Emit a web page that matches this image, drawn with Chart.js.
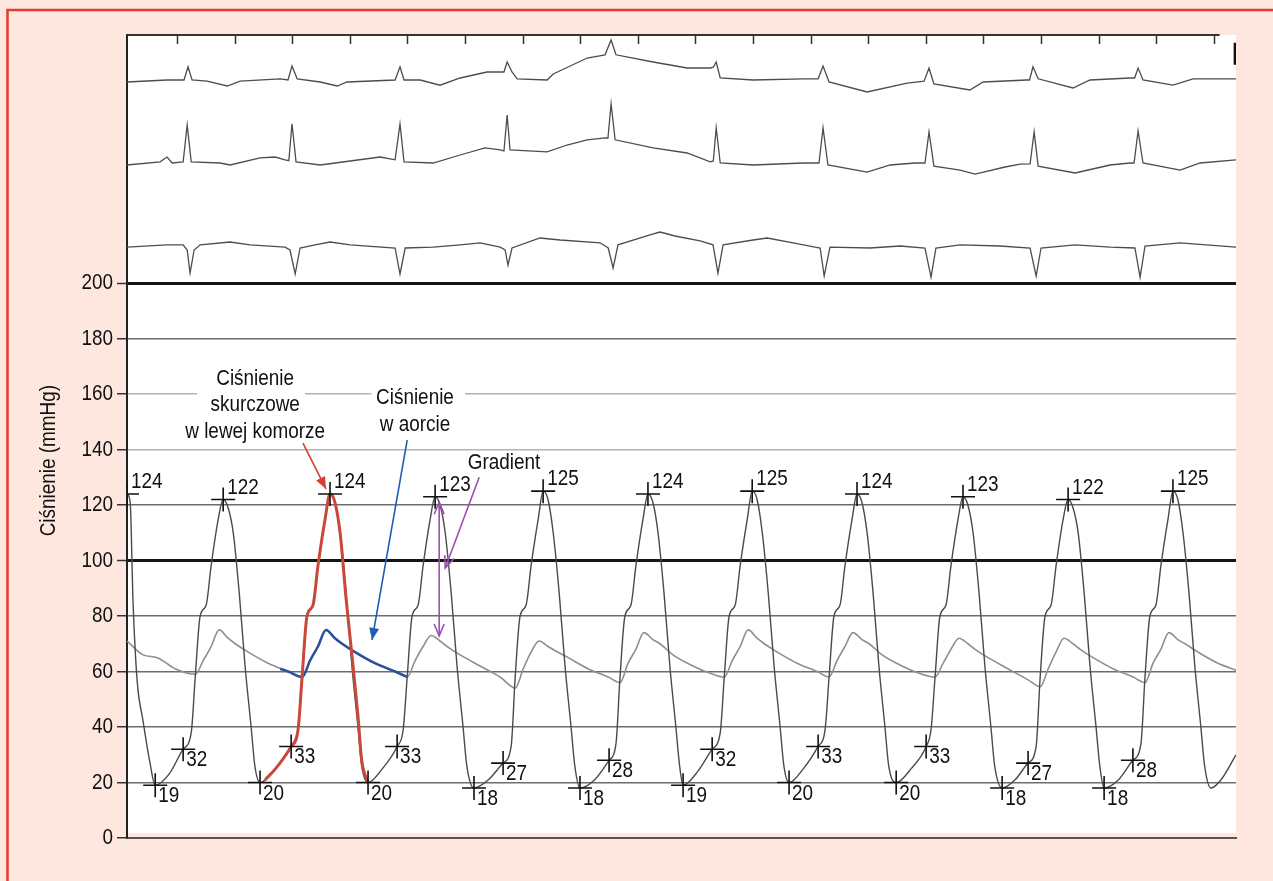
<!DOCTYPE html>
<html>
<head>
<meta charset="utf-8">
<title>Ciśnienie w lewej komorze i w aorcie</title>
<script src="https://cdn.jsdelivr.net/npm/chart.js@4.4.1/dist/chart.umd.min.js"></script>
<style>
  html, body { margin: 0; padding: 0; background: #fde7de; }
  #chart { display: block; }
</style>
</head>
<body>
<canvas id="chart" width="1273" height="881"></canvas>
<script>
// --- Fonts / axis ranges ---
const FONT = "'Liberation Sans', Arial, sans-serif";
const FONT_SIZE = 22;
const SQUEEZE = 0.86;  // horizontal squeeze, the original uses a condensed face
const X_MIN = -174;    // ms, left edge of the trace
const X_MAX = 3677;    // ms, right edge
const Y_MAX = 289.4;   // mmHg scale continues up into the ECG strip
const TOP_AXIS_END = 3620;

// --- Axis ticks ---
const yTicks = [0, 20, 40, 60, 80, 100, 120, 140, 160, 180, 200];
const topTicks = [0, 200, 400, 600, 800, 1000, 1200, 1400, 1600, 1800, 2000,
                  2200, 2400, 2600, 2800, 3000, 3200, 3400, 3600];

// --- Marked points (time in ms, pressure in mmHg) ---
const peakTimes  = [-174, 160, 531, 896, 1271, 1635, 1997, 2361, 2729, 3094, 3458];
const peakValues = [124, 122, 124, 123, 125, 124, 125, 124, 123, 122, 125];
const minTimes   = [-76, 288, 663, 1031, 1399, 1757, 2125, 2497, 2865, 3219];
const minValues  = [19, 20, 20, 18, 18, 19, 20, 20, 18, 18];
const edTimes    = [21, 396, 764, 1132, 1500, 1858, 2226, 2601, 2955, 3319];
const edValues   = [32, 33, 33, 27, 28, 32, 33, 33, 27, 28];

// --- Left ventricular pressure [ms, mmHg] ---
const lvPressure = [
  [-174,124],[-163,121],[-153,85],[-139,57],[-118,42],[-94,27],
  [-76,19],[-28,23],[21,32],[49,38],[63,58],[80,80],[101,84],[118,98],[143,115],[160,122],[177,119],[195,110],[216,88],[236,62],[257,40],[270,26],
  [288,20],[342,25],[396,33],[420,39],[434,58],[451,80],[472,84],[489,98],[514,115],[531,124],[548,121],[566,110],[587,88],[607,62],[628,40],[641,26],
  [663,20],[713,25],[764,33],[785,39],[799,58],[816,80],[837,84],[854,98],[879,115],[896,123],[913,120],[931,110],[952,88],[972,62],[993,40],[1006,26],
  [1031,18],[1081,21],[1132,27],[1160,33],[1174,58],[1191,80],[1212,84],[1229,98],[1254,115],[1271,125],[1288,122],[1306,110],[1327,88],[1347,62],[1368,40],[1381,26],
  [1399,18],[1450,21],[1500,28],[1524,34],[1538,58],[1555,80],[1576,84],[1593,98],[1618,115],[1635,124],[1652,121],[1670,110],[1691,88],[1711,62],[1732,40],[1745,26],
  [1757,19],[1808,24],[1858,32],[1886,38],[1900,58],[1917,80],[1938,84],[1955,98],[1980,115],[1997,125],[2014,122],[2032,110],[2053,88],[2073,62],[2094,40],[2107,26],
  [2125,20],[2175,25],[2226,33],[2250,39],[2264,58],[2281,80],[2302,84],[2319,98],[2344,115],[2361,124],[2378,121],[2396,110],[2417,88],[2437,62],[2458,40],[2471,26],
  [2497,20],[2549,25],[2601,33],[2618,39],[2632,58],[2649,80],[2670,84],[2687,98],[2712,115],[2729,123],[2746,120],[2764,110],[2785,88],[2805,62],[2826,40],[2839,26],
  [2865,18],[2910,21],[2955,27],[2983,33],[2997,58],[3014,80],[3035,84],[3052,98],[3077,115],[3094,122],[3111,119],[3129,110],[3150,88],[3170,62],[3191,40],[3204,26],
  [3219,18],[3269,21],[3319,28],[3347,34],[3361,58],[3378,80],[3399,84],[3416,98],[3441,115],[3458,125],[3475,122],[3493,110],[3514,88],[3534,62],[3555,40],[3568,26],
  [3590,18],[3625,21],[3677,30]
];

// highlighted LV beat (red)
const lvHighlight = [
  [306,21],[342,25],[396,33],[420,39],[434,58],[451,80],[472,84],[489,98],[514,115],[531,124],
  [548,121],[566,110],[587,86],[607,66],[628,44],[641,28],[663,20]
];

// --- Aortic pressure [ms, mmHg] ---
const aorticPressure = [
  [-174,71],[-118,66],[-69,65],[-7,61],
  [63,59],[91,64],[118,69],[146,75],[177,72],[202,70],[247,67],[316,63],[386,60],
  [434,58],[462,64],[489,69],[517,75],[548,72],[573,70],[618,67],[687,63],[757,60],
  [799,58],[827,64],[854,69],[882,73],[913,71],[938,69],[983,66],[1052,62],[1122,58],
  [1174,54],[1202,61],[1229,67],[1257,71],[1288,69],[1313,67.5],[1358,65],[1427,61],[1497,58],
  [1538,56],[1566,63],[1593,68],[1621,74],[1652,71.5],[1677,70],[1722,66],[1791,62],[1861,59],
  [1900,58],[1928,64],[1955,69],[1983,75],[2014,72],[2039,70],[2084,67],[2153,63],[2223,60],
  [2264,58],[2292,64],[2319,69],[2347,74],[2378,71.5],[2403,70],[2448,66],[2517,62],[2587,59],
  [2632,58],[2660,63],[2687,68],[2715,72],[2746,70],[2771,68],[2816,65],[2885,61],[2955,57],
  [2997,54.5],[3025,61],[3052,67],[3080,72],[3111,70],[3136,68],[3181,65],[3250,61],[3320,58],
  [3361,56],[3389,63],[3416,68],[3444,74],[3475,71.5],[3500,70],[3545,67],[3614,63],[3677,60.5]
];

// highlighted aortic segment (blue)
const aorticHighlight = [
  [358,61],[386,60],[434,58],[462,64],[489,69],[517,75],[548,72],[573,70],[618,67],[687,63],[757,60],[799,58]
];

// --- ECG leads [ms, mV relative to own baseline] ---
const ecgLeadI = [
  [-174,-0.05],[-35,0],[24,0],[38,0.33],[52,0],[104,-0.03],[174,-0.15],[219,-0.03],[358,0.03],[385,0],[399,0.35],[417,0.03],
  [497,-0.05],[556,-0.15],[590,-0.05],[757,0],[774,0.33],[788,0],[844,0],[913,-0.13],[983,0.05],[1076,0.2],[1122,0.2],[1135,0.2],
  [1146,0.45],[1163,0.2],[1181,0.03],[1285,0],[1306,0.15],[1424,0.55],[1486,0.63],[1507,1.0],[1524,0.63],[1653,0.45],[1771,0.3],
  [1851,0.3],[1862,0.32],[1872,0.45],[1886,0.05],[2000,0],[2174,0.03],[2226,0.03],[2243,0.35],[2264,-0.05],[2396,-0.3],[2535,-0.08],
  [2594,-0.03],[2611,0.3],[2628,-0.1],[2753,-0.25],[2799,-0.05],[2951,0],[2960,0],[2972,0.33],[2990,0.03],[3111,-0.2],[3170,0],
  [3309,0.05],[3325,0.05],[3337,0.3],[3354,0],[3458,-0.13],[3528,0.03],[3677,0.03]
];
const ecgLeadII = [
  [-174,-0.05],[-59,0.03],[-35,0.15],[-17,0],[21,0.03],[35,0.95],[49,0.03],[149,0],[184,-0.05],[288,0.13],[340,0.15],[375,0.08],
  [388,0.06],[399,0.98],[413,0.03],[497,-0.05],[549,0],[705,0.15],[757,0.08],[774,0.98],[788,0.03],[889,0],[983,0.2],[1069,0.38],
  [1122,0.33],[1135,0.3],[1146,1.2],[1156,0.33],[1285,0.28],[1354,0.45],[1424,0.58],[1486,0.63],[1496,0.62],[1507,1.48],[1521,0.58],
  [1653,0.38],[1771,0.25],[1851,0.03],[1862,0.05],[1872,0.88],[1886,0],[2000,-0.05],[2174,0],[2229,0],[2243,0.88],[2260,-0.05],
  [2396,-0.23],[2476,-0.05],[2563,0],[2597,0],[2611,0.78],[2628,-0.08],[2719,-0.18],[2771,-0.28],[2875,-0.1],[2927,-0.03],
  [2962,-0.02],[2976,0.78],[2990,-0.08],[3118,-0.25],[3240,-0.05],[3309,0],[3323,0],[3337,0.8],[3354,0],[3483,-0.18],[3552,0],[3677,0.08]
];
const ecgLeadIII = [
  [-174,-0.03],[-35,0.03],[21,0.03],[35,-0.1],[45,-0.68],[59,-0.1],[80,0.03],[184,0.1],[253,0.03],[375,-0.03],[392,-0.1],
  [410,-0.7],[427,-0.05],[479,0.03],[531,0.1],[601,0.03],[757,-0.05],[774,-0.7],[792,-0.05],[889,-0.03],[983,0.03],[1052,0.08],
  [1122,-0.03],[1139,-0.1],[1149,-0.48],[1163,-0.05],[1260,0.2],[1330,0.15],[1469,0.08],[1497,-0.05],[1514,-0.55],[1531,0.03],
  [1642,0.28],[1677,0.35],[1729,0.25],[1816,0.13],[1861,0.03],[1878,-0.68],[1896,0.03],[2000,0.15],[2049,0.2],[2139,0.08],
  [2215,-0.03],[2233,-0.05],[2247,-0.75],[2267,-0.03],[2406,-0.05],[2510,0],[2597,-0.05],[2618,-0.78],[2635,-0.05],[2719,0.03],
  [2858,0],[2962,-0.05],[2983,-0.75],[3000,-0.05],[3118,0.03],[3240,-0.03],[3326,-0.05],[3344,-0.78],[3361,0],[3483,0.08],[3677,-0.03]
];
const calibrationMark = [[3674,0.93],[3674,0.38]];

// --- Annotations (data coordinates: ms, mmHg) ---
const notes = [
  { lines: ['Ciśnienie', 'skurczowe', 'w lewej komorze'], x: 271, y: [165.4, 156.0, 146.3] },
  { lines: ['Ciśnienie', 'w aorcie'], x: 826, y: [158.6, 148.8] },
  { lines: ['Gradient'], x: 1135, y: [135.1] }
];
const noteBoxes = [
  { x0: 69, x1: 444, y0: 142, y1: 170 },
  { x0: 674, x1: 1000, y0: 144, y1: 164 }
];
const arrows = [
  { from: [437, 142.3], to: [517, 125.8], color: '#d8402f', filled: true, both: false },
  { from: [799, 143.4], to: [677, 71.4], color: '#1f5eb3', filled: true, both: false },
  { from: [1049, 130.0], to: [931, 97.3], color: '#9a4fb2', filled: false, both: false },
  { from: [910, 121.0], to: [910, 72.8], color: '#9a4fb2', filled: false, both: true }
];

// --- Helpers ---
function gridColor(v) {
  if (v === 0) return 'rgba(0,0,0,0)';
  if (v === 200 || v === 100) return '#151515';
  if (v === 160 || v === 140) return '#b4b4b4';
  return '#6c6c6c';
}

function drawHead(ctx, x, y, ang, filled) {
  const len = 12, w = 5;
  const bx = x - len * Math.cos(ang), by = y - len * Math.sin(ang);
  const ox = -Math.sin(ang) * w, oy = Math.cos(ang) * w;
  ctx.beginPath();
  ctx.moveTo(bx + ox, by + oy);
  ctx.lineTo(x, y);
  ctx.lineTo(bx - ox, by - oy);
  if (filled) { ctx.closePath(); ctx.fill(); } else { ctx.stroke(); }
}

// text in a narrowed face (translate, optional rotation, then squeeze along the baseline)
function squeezedText(ctx, text, x, y, align, angle) {
  ctx.save();
  ctx.translate(x, y);
  if (angle) ctx.rotate(angle);
  ctx.scale(SQUEEZE, 1);
  ctx.font = FONT_SIZE + 'px ' + FONT;
  ctx.fillStyle = '#111';
  ctx.textAlign = align;
  ctx.textBaseline = 'middle';
  ctx.fillText(text, 0, 0);
  ctx.restore();
}

const crossPoints = []
  .concat(peakTimes.map((t, i) => ({ x: t, y: peakValues[i] })))
  .concat(minTimes.map((t, i) => ({ x: t, y: minValues[i] })))
  .concat(edTimes.map((t, i) => ({ x: t, y: edValues[i] })));

// --- Plugins ---
const backdrop = {
  id: 'backdrop',
  beforeDraw(chart) {
    const { ctx, chartArea: a, width, height } = chart;
    ctx.save();
    ctx.fillStyle = '#fde7de';
    ctx.fillRect(0, 0, width, height);
    ctx.strokeStyle = '#e8392c';
    ctx.lineWidth = 2.5;
    ctx.beginPath();
    ctx.moveTo(7.5, height);
    ctx.lineTo(7.5, 10);
    ctx.lineTo(width, 10);
    ctx.stroke();
    ctx.fillStyle = '#ffffff';
    ctx.fillRect(a.left, a.top, a.right - a.left, a.bottom - a.top - 5);
    ctx.restore();
  },
  beforeDatasetsDraw(chart) {
    // white boxes behind the labels hide the 160 grid line
    const { ctx, scales: { x, y } } = chart;
    ctx.save();
    ctx.fillStyle = '#ffffff';
    noteBoxes.forEach(b => {
      const l = x.getPixelForValue(b.x0), r = x.getPixelForValue(b.x1);
      const t = y.getPixelForValue(b.y1), btm = y.getPixelForValue(b.y0);
      ctx.fillRect(l, t, r - l, btm - t);
    });
    ctx.restore();
  }
};

const overlay = {
  id: 'overlay',
  afterDatasetsDraw(chart) {
    const { ctx, chartArea: a, scales: { x, y } } = chart;
    ctx.save();

    // top time axis with inward ticks
    ctx.strokeStyle = '#333';
    ctx.lineWidth = 2;
    ctx.beginPath();
    ctx.moveTo(a.left, a.top);
    ctx.lineTo(x.getPixelForValue(TOP_AXIS_END), a.top);
    ctx.stroke();
    ctx.lineWidth = 1.5;
    ctx.beginPath();
    topTicks.forEach(t => {
      const px = Math.round(x.getPixelForValue(t)) + 0.5;
      ctx.moveTo(px, a.top);
      ctx.lineTo(px, a.top + 9);
    });
    ctx.stroke();

    // arrows
    arrows.forEach(ar => {
      const x1 = x.getPixelForValue(ar.from[0]), y1 = y.getPixelForValue(ar.from[1]);
      const x2 = x.getPixelForValue(ar.to[0]), y2 = y.getPixelForValue(ar.to[1]);
      ctx.strokeStyle = ar.color;
      ctx.fillStyle = ar.color;
      ctx.lineWidth = 1.6;
      ctx.beginPath();
      ctx.moveTo(x1, y1);
      ctx.lineTo(x2, y2);
      ctx.stroke();
      const ang = Math.atan2(y2 - y1, x2 - x1);
      drawHead(ctx, x2, y2, ang, ar.filled);
      if (ar.both) drawHead(ctx, x1, y1, ang + Math.PI, ar.filled);
    });
    ctx.restore();

    // annotation text
    notes.forEach(n => {
      n.lines.forEach((line, i) => {
        squeezedText(ctx, line, x.getPixelForValue(n.x), y.getPixelForValue(n.y[i]), 'center');
      });
    });

    // value labels next to the crosses
    peakTimes.forEach((t, i) => {
      squeezedText(ctx, String(peakValues[i]), x.getPixelForValue(t) + 4, y.getPixelForValue(peakValues[i]) - 12, 'left');
    });
    minTimes.forEach((t, i) => {
      squeezedText(ctx, String(minValues[i]), x.getPixelForValue(t) + 3, y.getPixelForValue(minValues[i]) + 11, 'left');
    });
    edTimes.forEach((t, i) => {
      squeezedText(ctx, String(edValues[i]), x.getPixelForValue(t) + 3, y.getPixelForValue(edValues[i]) + 11, 'left');
    });

    // y tick labels and title
    yTicks.forEach(v => {
      squeezedText(ctx, String(v), a.left - 14, y.getPixelForValue(v), 'right');
    });
    squeezedText(ctx, 'Ciśnienie (mmHg)', 49, y.getPixelForValue(136), 'center', -Math.PI / 2);
  }
};

// --- Chart ---
Chart.defaults.font.family = FONT;

const ctx = document.getElementById('chart').getContext('2d');
new Chart(ctx, {
  type: 'line',
  data: {
    datasets: [
      { // marker crosses
        data: crossPoints, showLine: false, pointStyle: 'cross', pointRadius: 12,
        pointBorderWidth: 1.6, pointBorderColor: '#111', borderColor: '#111'
      },
      { data: lvHighlight, borderColor: '#c9473b', borderWidth: 3, pointRadius: 0, cubicInterpolationMode: 'monotone' },
      { data: aorticHighlight, borderColor: '#2c4f9e', borderWidth: 2.5, pointRadius: 0, cubicInterpolationMode: 'monotone' },
      { data: lvPressure, borderColor: '#4a4a4a', borderWidth: 1.4, pointRadius: 0, cubicInterpolationMode: 'monotone' },
      { data: aorticPressure, borderColor: '#8e8e8e', borderWidth: 1.6, pointRadius: 0, cubicInterpolationMode: 'monotone' },
      { data: ecgLeadI, yAxisID: 'ecgI', borderColor: '#4d4d4d', borderWidth: 1.3, pointRadius: 0 },
      { data: ecgLeadII, yAxisID: 'ecgII', borderColor: '#4d4d4d', borderWidth: 1.3, pointRadius: 0 },
      { data: ecgLeadIII, yAxisID: 'ecgIII', borderColor: '#4d4d4d', borderWidth: 1.3, pointRadius: 0 },
      { data: calibrationMark, yAxisID: 'ecgI', borderColor: '#111', borderWidth: 3, pointRadius: 0 }
    ]
  },
  options: {
    responsive: false,
    animation: false,
    events: [],
    layout: { padding: { left: 0, top: 35, right: 37, bottom: 43 } },
    plugins: {
      legend: { display: false },
      tooltip: { enabled: false }
    },
    scales: {
      x: {
        type: 'linear',
        min: X_MIN,
        max: X_MAX,
        ticks: { display: false },
        grid: { display: false },
        border: { display: true, color: '#555', width: 2 },
        afterFit: s => { s.height = 0; }
      },
      y: {
        min: 0,
        max: Y_MAX,
        afterBuildTicks: s => { s.ticks = yTicks.map(v => ({ value: v })); },
        afterFit: s => { s.width = 127; },
        ticks: { display: false },
        grid: {
          color: c => gridColor(c.tick.value),
          lineWidth: c => (c.tick.value === 200 || c.tick.value === 100) ? 3 : 1.5,
          tickColor: '#333',
          tickWidth: 1.5,
          tickLength: 10
        },
        border: { display: true, color: '#222', width: 2 }
      },
      ecgI:   { type: 'linear', display: false, min: -18.95, max: 1.125 },
      ecgII:  { type: 'linear', display: false, min: -16.875, max: 3.2 },
      ecgIII: { type: 'linear', display: false, min: -14.8, max: 5.275 }
    }
  },
  plugins: [backdrop, overlay]
});
</script>
</body>
</html>
